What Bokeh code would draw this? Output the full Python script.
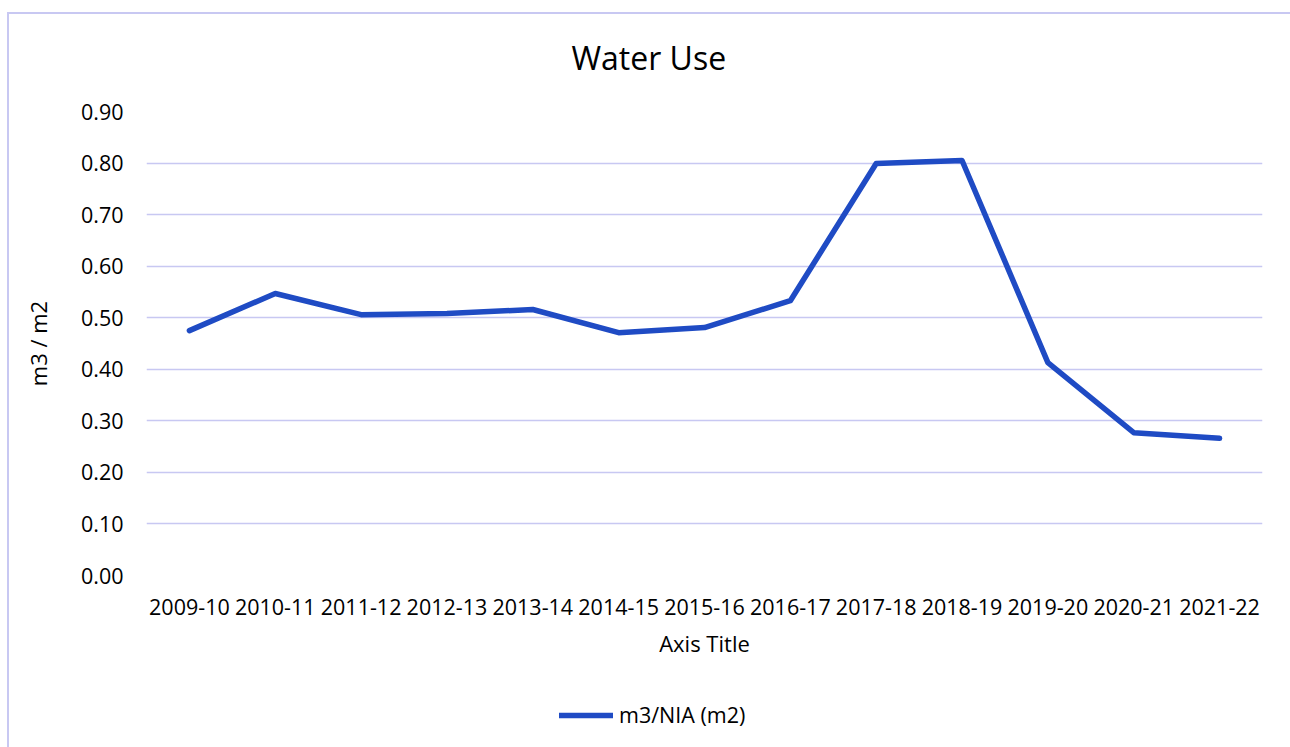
from bokeh.plotting import figure
from bokeh.layouts import column
from bokeh.models import (FactorRange, Range1d, Legend, LegendItem,
                          SingleIntervalTicker, NumeralTickFormatter)
from bokeh.embed import file_html
from bokeh.resources import INLINE

years = ["2009-10", "2010-11", "2011-12", "2012-13", "2013-14", "2014-15", "2015-16",
         "2016-17", "2017-18", "2018-19", "2019-20", "2020-21", "2021-22"]
water_use = [0.475, 0.547, 0.506, 0.508, 0.516, 0.471, 0.481,
             0.533, 0.799, 0.805, 0.413, 0.277, 0.266]
series_name = "m3/NIA (m2)"

FONT = "Open Sans"
LINE_COLOR = "#1F4BC4"
GRID_COLOR = "#C8C8F2"
LINE_STYLE = dict(line_color=LINE_COLOR, line_width=5.5, line_join="round", line_cap="round")

p = figure(width=1290, height=690, output_backend="svg", toolbar_location=None,
           x_range=FactorRange(*years, range_padding=0), y_range=Range1d(0, 0.9),
           min_border_left=146, min_border_right=28, min_border_top=111,
           min_border_bottom=115)
p.frame_width = 1116
p.frame_height = 464
p.outline_line_color = None
p.background_fill_color = "white"
p.border_fill_alpha = 0
p.styles = {
    "background-color": "white",
    "background-image": ("linear-gradient(#C8C8F2, #C8C8F2), "
                         "linear-gradient(#C8C8F2, #C8C8F2)"),
    "background-size": "2px 100%, 100% 2px",
    "background-position": "7px 12px, 7px 12px",
    "background-repeat": "no-repeat",
}

r = p.line(years, water_use, **LINE_STYLE)

# title
p.title.text = "Water Use"
p.title.align = "left"
p.title.offset = 425
p.title.standoff = 65
p.title.text_font = FONT
p.title.text_font_size = "32px"
p.title.text_font_style = "normal"
p.title.text_color = "black"

# axes
p.yaxis.ticker = SingleIntervalTicker(interval=0.1)
p.yaxis.formatter = NumeralTickFormatter(format="0.00")
for ax in (p.xaxis[0], p.yaxis[0]):
    ax.axis_line_color = None
    ax.major_tick_line_color = None
    ax.minor_tick_line_color = None
    ax.major_tick_out = 0
    ax.major_tick_in = 0
    ax.major_label_text_font = FONT
    ax.major_label_text_font_size = "21.5px"
    ax.major_label_text_color = "black"
    ax.axis_label_text_font = FONT
    ax.axis_label_text_font_size = "22px"
    ax.axis_label_text_font_style = "normal"
    ax.axis_label_text_color = "black"
p.yaxis.major_label_standoff = 19
p.xaxis.major_label_standoff = 23
p.xaxis.axis_label = "Axis Title"
p.yaxis.axis_label = "m3 / m2"
p.xaxis.axis_label_standoff = 10
p.yaxis.axis_label_standoff = 25

p.xgrid.grid_line_color = None
p.ygrid.grid_line_color = GRID_COLOR
p.ygrid.grid_line_width = 1.5

# legend strip below the chart: same series, same style, kept outside its view
pl = figure(width=1290, height=57, output_backend="svg", toolbar_location=None,
            x_axis_type=None, y_axis_type=None,
            x_range=FactorRange(*years, range_padding=0), y_range=Range1d(5, 6),
            min_border_left=0, min_border_right=0, min_border_top=0, min_border_bottom=0)
pl.frame_width = 1290
pl.frame_height = 57
pl.outline_line_color = None
pl.background_fill_alpha = 0
pl.border_fill_alpha = 0
pl.xgrid.grid_line_color = None
pl.ygrid.grid_line_color = None
pl.styles = {
    "background-color": "white",
    "background-image": "linear-gradient(#C8C8F2, #C8C8F2)",
    "background-size": "2px 100%",
    "background-position": "7px 0px",
    "background-repeat": "no-repeat",
}
rl = pl.line(years, water_use, **LINE_STYLE)
legend = Legend(items=[LegendItem(label=series_name, renderers=[rl])],
                location=(559, 18), orientation="horizontal",
                glyph_width=54, glyph_height=28, label_height=28, label_standoff=6,
                label_text_font=FONT, label_text_font_size="21.5px",
                label_text_color="black", padding=0, margin=0,
                border_line_color=None, background_fill_alpha=0)
pl.add_layout(legend, "center")

layout = column(p, pl, spacing=0)
open("out.html", "w").write(file_html(layout, INLINE))
